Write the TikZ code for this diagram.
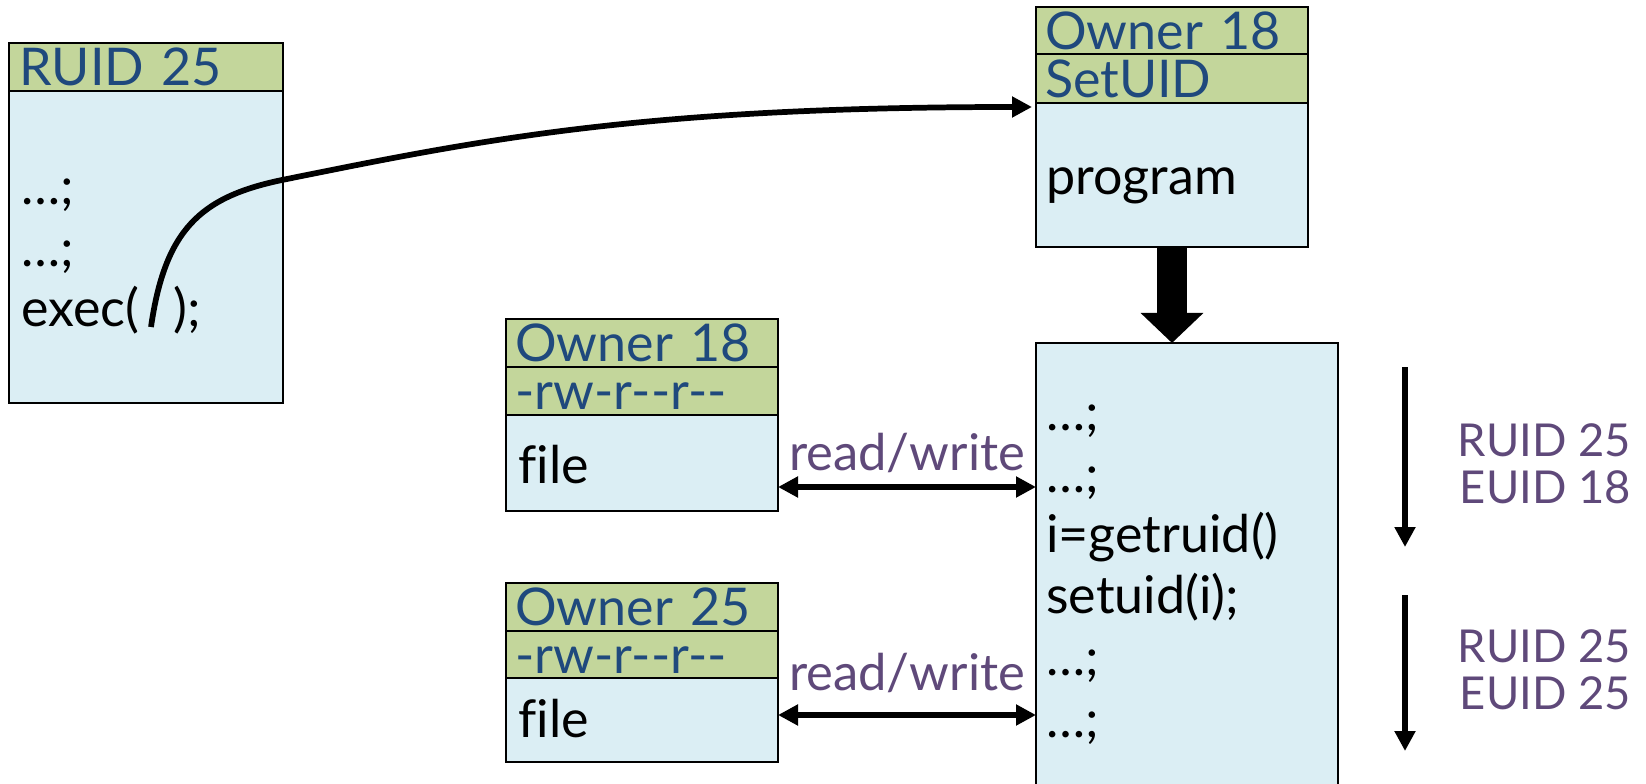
\documentclass[tikz,border=0pt]{standalone}
\usepackage{fontspec}
\setmainfont{Lato}
\usetikzlibrary{arrows.meta,positioning}
\definecolor{hdrgreen}{HTML}{C3D69B}
\definecolor{bodyblue}{HTML}{DBEEF4}
\definecolor{hdrblue}{HTML}{1F497D}
\definecolor{uidpurple}{HTML}{5F497A}
\tikzstyle{part}=[rectangle,draw=black,line width=1.6pt,outer sep=0pt,inner sep=0pt]
\tikzstyle{header}=[part,fill=hdrgreen,text=hdrblue,font=\fontsize{39}{45}\selectfont,minimum height=36pt,text width=190pt,align=left,text height=27.9pt,text depth=0pt,inner xsep=7pt]
\tikzstyle{body}=[part,fill=bodyblue]
\tikzstyle{codeline}=[inner sep=0pt,anchor=base west,font=\fontsize{39}{45}\selectfont]
\tikzstyle{uid}=[inner sep=0pt,anchor=base east,text=uidpurple,font=\fontsize{34}{40}\selectfont]
\tikzstyle{rwlabel}=[inner sep=0pt,anchor=base,text=uidpurple,font=\fontsize{38}{44}\selectfont]
\tikzstyle{edge}=[draw,line width=4.3pt,-{Triangle[width=15pt,length=15pt]}]
\tikzstyle{rwedge}=[draw,line width=4.3pt,{Triangle[width=15pt,length=15pt]}-{Triangle[width=15pt,length=15pt]}]
\tikzstyle{bigedge}=[draw,line width=22.5pt,-{Triangle[width=45.75pt,length=22.5pt]}]

\begin{document}
\begin{tikzpicture}[x=0.75pt,y=-0.75pt]
    \clip (0,0) rectangle (1646,784);
    % The calling process
    \node[header,anchor=north west,minimum width=205.5pt] (ruid) at (9,43) {RUID 25};
    \node[body,below=0pt of ruid,minimum width=205.5pt,minimum height=234pt] (proc) {};
    \foreach \y/\txt in {205/{…;}, 267/{…;}, 327/{exec(\hspace{26pt});}}
        \node[codeline] (p\y) at (21,\y) {\txt};

    % The setuid program on disk
    \node[header,anchor=north west,minimum height=35.25pt] (powner) at (1036,7) {Owner 18};
    \node[header,below=0pt of powner,minimum height=36.75pt] (pmode) {SetUID};
    \node[body,below=0pt of pmode,minimum width=204pt,minimum height=108pt] (prog) {};
    \node[codeline] (ptxt) at (1046,195) {program};

    % The running program
    \node[body,anchor=north west,minimum width=226.5pt,minimum height=345pt] (run) at (1036,343) {};
    \foreach \y/\txt in {430/{…;}, 492/{…;}, 552/{i=getruid()}, 613/{setuid(i);}, 675/{…;}, 737/{…;}}
        \node[codeline] (r\y) at (1046,\y) {\txt};

    % The two files
    \node[header,anchor=north west] (fowner) at (506,319) {Owner 18};
    \node[header,below=0pt of fowner] (fmode) {-rw-r-{}-r-{}-};
    \node[body,below=0pt of fmode,minimum width=204pt,minimum height=72pt] (file) {};
    \node[codeline] (ftxt) at (518,483) {f\kern0pt ile};

    \node[header,anchor=north west] (gowner) at (506,583) {Owner 25};
    \node[header,below=0pt of gowner,minimum height=35.25pt] (gmode) {-rw-r-{}-r-{}-};
    \node[body,below=0pt of gmode,minimum width=204pt,minimum height=63pt] (gfile) {};
    \node[codeline] (gtxt) at (518,737) {f\kern0pt ile};

    % IDs while running
    \foreach \y/\txt in {456/RUID 25, 503/EUID 18, 662/RUID 25, 709/EUID 25}
        \node[uid] (u\y) at (1631,\y) {\txt};

    % Connectors
    \coordinate (execpt) at (151,327);
    \coordinate (progin) at ([xshift=-3pt,yshift=-3pt]prog.north west);
    \draw[edge] (execpt) .. controls (165,230) and (200,197) .. (282,180)
        .. controls (480,140) and (640,107) .. (progin);
    \draw[bigedge] (prog.south) -- (prog.south |- run.north);

    \coordinate (rwa) at ([yshift=18pt]file.south east);
    \coordinate (rwb) at ([yshift=35.25pt]gfile.south east);
    \draw[rwedge] (rwa) -- (rwa -| run.west) node[rwlabel,midway,yshift=12.75pt] (rwla) {read/write};
    \draw[rwedge] (rwb) -- (rwb -| run.west) node[rwlabel,midway,yshift=18.75pt] (rwlb) {read/write};

    \coordinate (d1s) at (1405,367);
    \coordinate (d1e) at (1405,547);
    \coordinate (d2s) at (1405,595);
    \coordinate (d2e) at (1405,751);
    \draw[edge] (d1s) -- (d1e);
    \draw[edge] (d2s) -- (d2e);
\end{tikzpicture}
\end{document}
